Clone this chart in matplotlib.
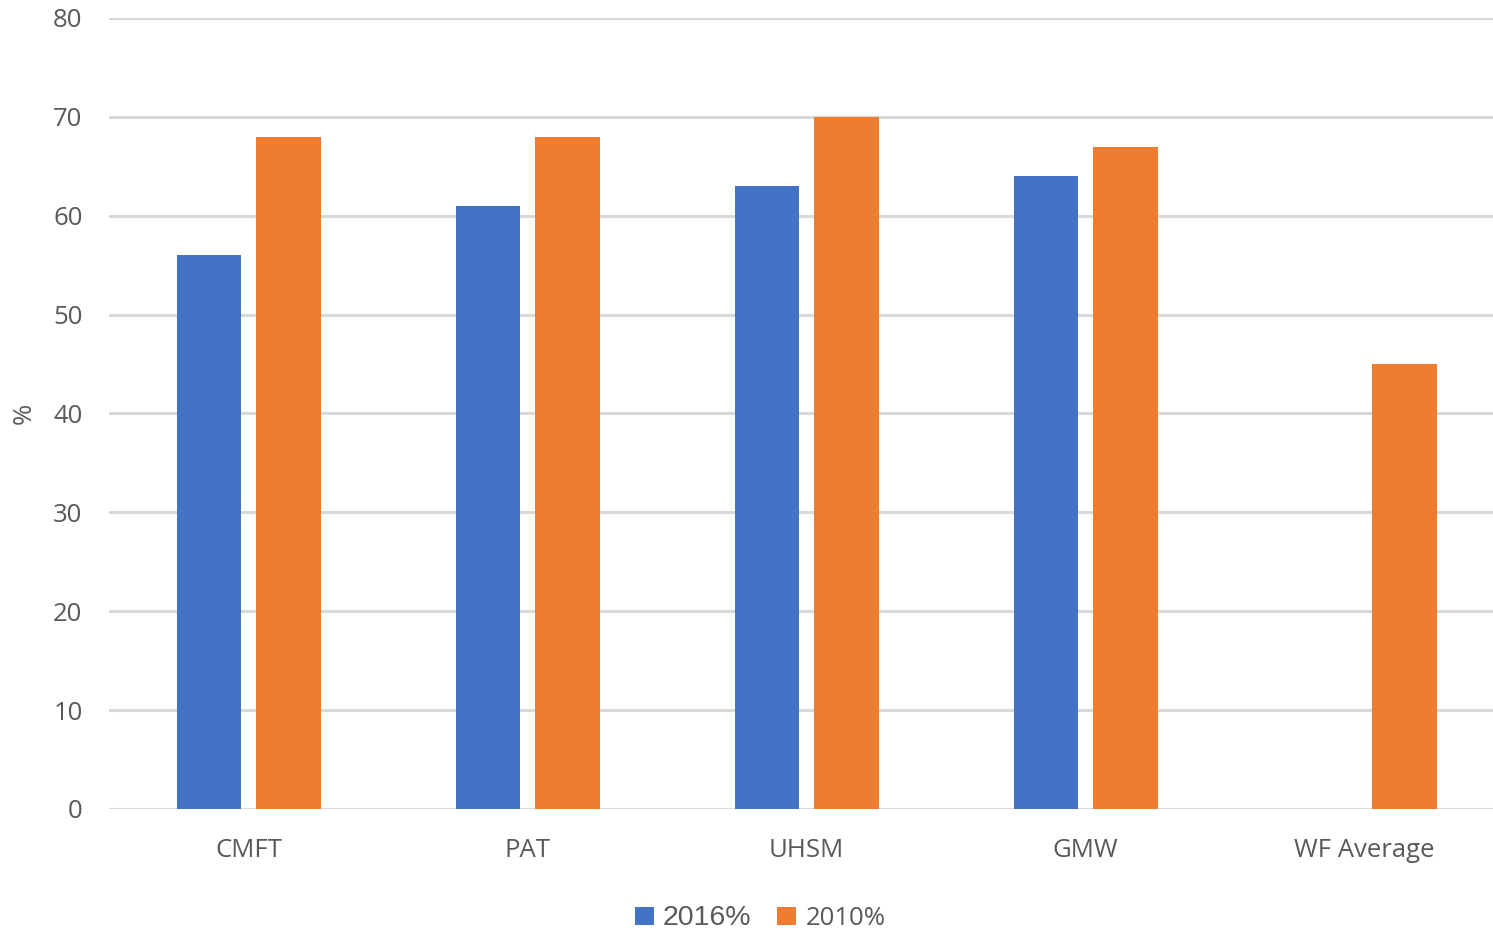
import matplotlib.pyplot as plt
import numpy as np

categories = ["CMFT", "PAT", "UHSM", "GMW", "WF Average"]
values_2016 = [56, 61, 63, 64, np.nan]
values_2010 = [68, 68, 70, 67, 45]
y_ticks = [0, 10, 20, 30, 40, 50, 60, 70, 80]

blue = "#4472C4"
orange = "#ED7D31"
text_col = "#595959"
grid_col = "#D9D9D9"

plt.rcParams["font.family"] = ["Open Sans", "DejaVu Sans"]

fig = plt.figure(figsize=(14.93, 9.36), dpi=100)
ax = fig.add_axes([109 / 1493, 1 - 809 / 936, 1 - 109 / 1493, (809 - 18) / 936])

x = np.arange(len(categories))
w = 0.23
off = 0.143
b1 = ax.bar(x - off, values_2016, width=w, color=blue, label="2016%", zorder=3)
b2 = ax.bar(x + off, values_2010, width=w, color=orange, label="2010%", zorder=3)

ax.set_xlim(-0.5, 4.46)
ax.set_ylim(0, 80)
ax.set_yticks(y_ticks)
ax.set_xticks(x)
ax.set_xticklabels(categories)
ax.tick_params(axis="both", length=0, labelsize=18.5, colors=text_col)
ax.tick_params(axis="x", pad=21)
ax.tick_params(axis="y", pad=19)
ax.yaxis.grid(True, color=grid_col, linewidth=2.2, zorder=0)
ax.set_axisbelow(True)
for s in ax.spines.values():
    s.set_visible(False)
ax.set_ylabel("%", fontsize=18.5, color=text_col, labelpad=0)
ax.yaxis.set_label_coords(-0.052, 0.5)

leg = fig.legend(handles=[b1, b2], loc="center", bbox_to_anchor=(760 / 1493, 1 - 918 / 936),
                 ncol=2, frameon=False, handlelength=0.75, handleheight=0.75,
                 handletextpad=0.35, columnspacing=1.0, fontsize=18.5)
for t in leg.get_texts():
    t.set_color(text_col)
leg.get_texts()[0].set_fontsize(20.5)
leg.get_texts()[0].set_family("Liberation Sans")

fig.savefig("out.png", dpi=100)
